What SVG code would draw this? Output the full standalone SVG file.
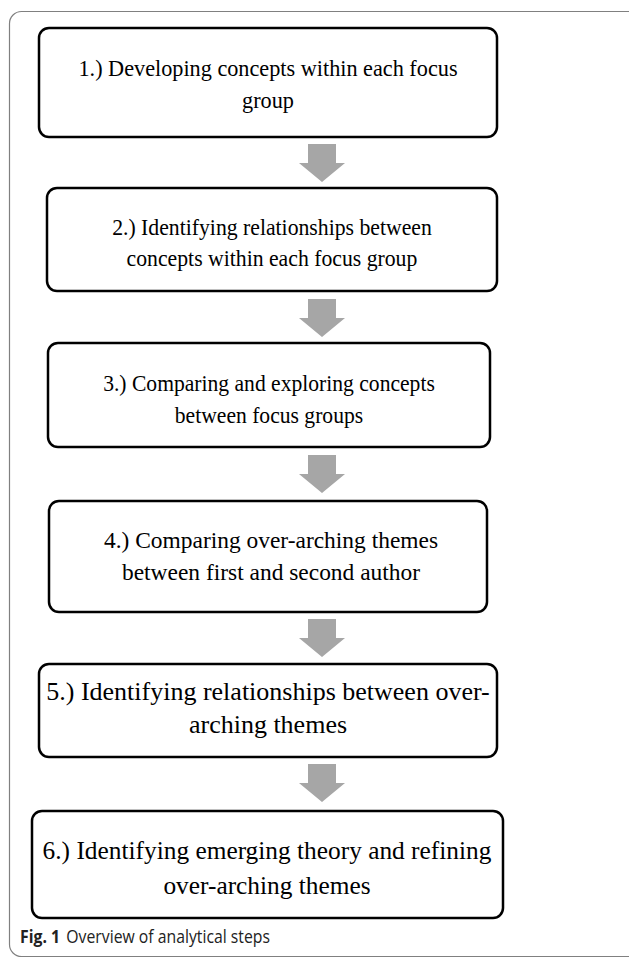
<svg xmlns="http://www.w3.org/2000/svg" width="629" height="958" viewBox="0 0 629 958">
<style>
.frame{fill:none;stroke:#808080;stroke-width:1.2}
.box{fill:#fff;stroke:#000;stroke-width:2.5}
.t{font-family:"Liberation Serif","Times New Roman",serif;font-size:24px;fill:#000;text-anchor:middle}
.t5{font-size:26px}
.arrow{fill:#a6a6a6}
.cap{font-family:"Open Sans","Noto Sans",sans-serif;font-size:17.5px;fill:#222}
</style>
<rect class="frame" x="9.5" y="11.5" width="700" height="945" rx="12"/>
<g id="connectors">
<path class="arrow" d="M308,144H336V163H345L322,182L299,163H308Z"/>
<path class="arrow" d="M308,299H336V318H345L322,337L299,318H308Z"/>
<path class="arrow" d="M308,455H336V474H345L322,493L299,474H308Z"/>
<path class="arrow" d="M308,619H336V638H345L322,657L299,638H308Z"/>
<path class="arrow" d="M308,764H336V783H345L322,802L299,783H308Z"/>
</g>
<g id="step1">
<rect class="box" x="39" y="28" width="458" height="109" rx="10"/>
<g transform="translate(268,0) scale(0.927,1) translate(-268,0)">
<text class="t" x="268" y="76">1.) Developing concepts within each focus</text>
<text class="t" x="268" y="108">group</text>
</g>
</g>
<g id="step2">
<rect class="box" x="47" y="188" width="450" height="103" rx="10"/>
<g transform="translate(272,0) scale(0.906,1) translate(-272,0)">
<text class="t" x="272" y="235">2.) Identifying relationships between</text>
<text class="t" x="272" y="266">concepts within each focus group</text>
</g>
</g>
<g id="step3">
<rect class="box" x="48" y="343" width="442" height="104" rx="10"/>
<g transform="translate(269,0) scale(0.9,1) translate(-269,0)">
<text class="t" x="269" y="391">3.) Comparing and exploring concepts</text>
<text class="t" x="269" y="423">between focus groups</text>
</g>
</g>
<g id="step4">
<rect class="box" x="49" y="501" width="438" height="111" rx="10"/>
<g transform="translate(271,0) scale(0.977,1) translate(-271,0)">
<text class="t" x="271" y="548">4.) Comparing over-arching themes</text>
<text class="t" x="271" y="580">between first and second author</text>
</g>
</g>
<g id="step5">
<rect class="box" x="39" y="664" width="458" height="93" rx="10"/>
<text class="t t5" x="268" y="700">5.) Identifying relationships between over-</text>
<text class="t t5" x="268" y="733">arching themes</text>
</g>
<g id="step6">
<rect class="box" x="32" y="811" width="471" height="107" rx="10"/>
<g transform="translate(267,0) scale(0.976,1) translate(-267,0)">
<text class="t t5" x="267" y="859">6.) Identifying emerging theory and refining</text>
<text class="t t5" x="267" y="894">over-arching themes</text>
</g>
</g>
<text class="cap" x="20" y="943" textLength="250" lengthAdjust="spacingAndGlyphs"><tspan font-weight="bold">Fig. 1</tspan><tspan dx="7">Overview of analytical steps</tspan></text>
</svg>
